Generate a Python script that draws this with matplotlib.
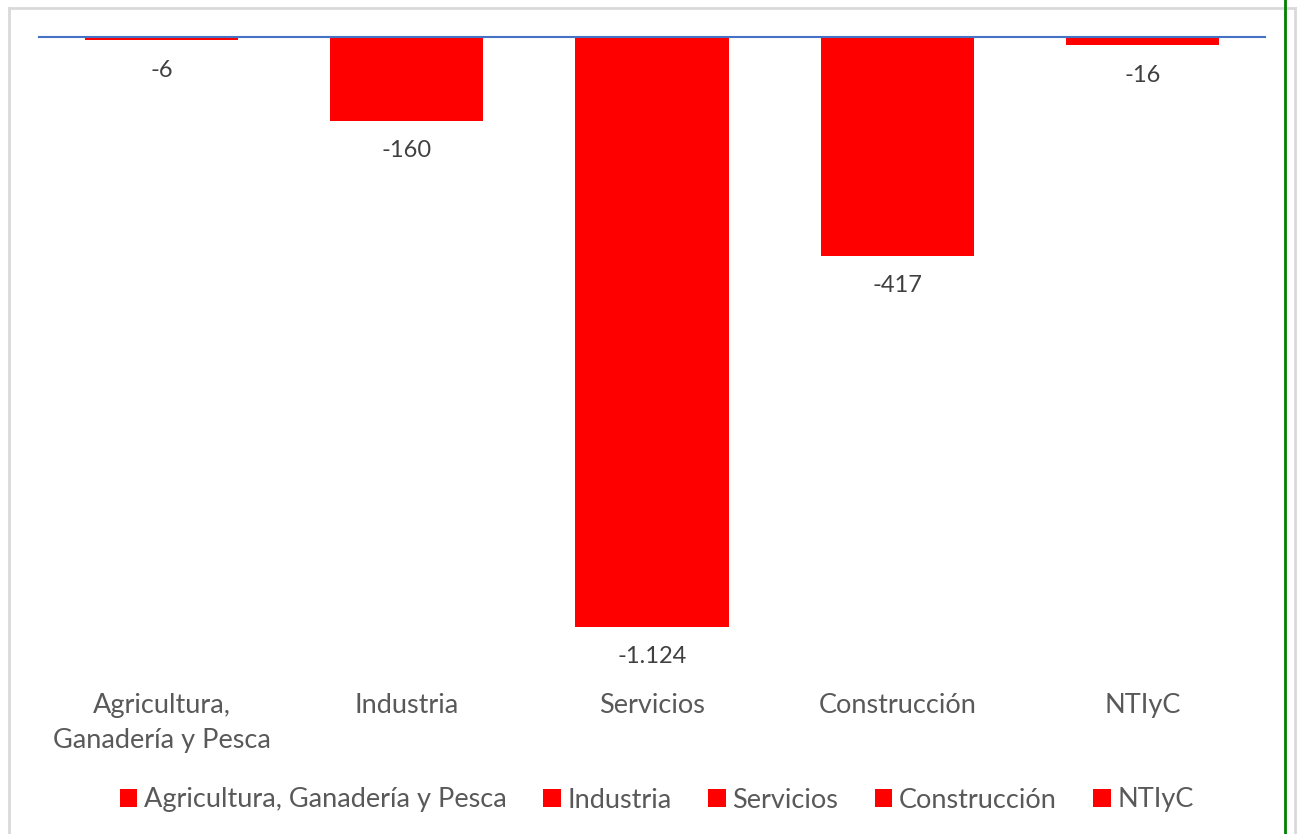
"""Bar chart: variación por sector (valores negativos)."""

import matplotlib

matplotlib.use("Agg")
import matplotlib.pyplot as plt
from matplotlib.lines import Line2D
from matplotlib.patches import Patch

plt.rcParams["font.family"] = ["Lato", "DejaVu Sans"]

# Data
CATEGORIES = ["Agricultura,\nGanadería y Pesca", "Industria", "Servicios", "Construcción", "NTIyC"]
LEGEND_NAMES = ["Agricultura, Ganadería y Pesca", "Industria", "Servicios", "Construcción", "NTIyC"]
VALUES = [-6, -160, -1124, -417, -16]

BAR_RED = "#FF0000"
ZERO_BLUE = "#4472C4"
TEXT_GRAY = "#595959"
VALUE_GRAY = "#404040"


def fmt_es(v: int) -> str:
    # thousands separator with a dot, as in the source
    return f"{v:,}".replace(",", ".")


W, H = 1301, 834
fig = plt.figure(figsize=(W / 100, H / 100), dpi=100)
ax = fig.add_axes([39 / W, 1 - 667 / H, (1265 - 39) / W, (667 - 37) / H])

x = list(range(len(VALUES)))
ax.bar(x, VALUES, width=0.625, color=BAR_RED, zorder=2)
ax.axhline(0, color=ZERO_BLUE, lw=1.5, zorder=3, clip_on=False)

for xi, v in zip(x, VALUES):
    ax.annotate(
        fmt_es(v),
        xy=(xi, v),
        xytext=(0, -21.5),
        textcoords="offset points",
        ha="center",
        va="center",
        fontsize=17,
        color=VALUE_GRAY,
    )

ax.set_xlim(-0.5, len(VALUES) - 0.5)
ax.set_ylim(-1200, 0)
ax.set_xticks(x)
ax.set_xticklabels(CATEGORIES, fontsize=19.5, color=TEXT_GRAY, linespacing=1.5)
ax.tick_params(axis="x", length=0, pad=19)
ax.set_yticks([])
for s in ax.spines.values():
    s.set_visible(False)

handles = [Patch(facecolor=BAR_RED, edgecolor="none") for _ in LEGEND_NAMES]
leg = fig.legend(
    handles,
    LEGEND_NAMES,
    loc="center",
    bbox_to_anchor=(657 / W, 1 - 800 / H),
    ncol=5,
    frameon=False,
    fontsize=19.5,
    handlelength=0.64,
    handleheight=0.64,
    handletextpad=0.25,
    columnspacing=1.35,
)
for t in leg.get_texts():
    t.set_color(TEXT_GRAY)

# chart frame and the green page rule on the right
fig.add_artist(Line2D([9 / W, 9 / W], [0, 1 - 8 / H], color="#d9d9d9", lw=2))
fig.add_artist(Line2D([9 / W, 1295 / W], [1 - 8 / H, 1 - 8 / H], color="#d9d9d9", lw=2))
fig.add_artist(Line2D([1295 / W, 1295 / W], [0, 1 - 8 / H], color="#d9d9d9", lw=2))
fig.add_artist(Line2D([1285 / W, 1285 / W], [0, 1], color="#008000", lw=2))

fig.savefig("out.png", dpi=100)
